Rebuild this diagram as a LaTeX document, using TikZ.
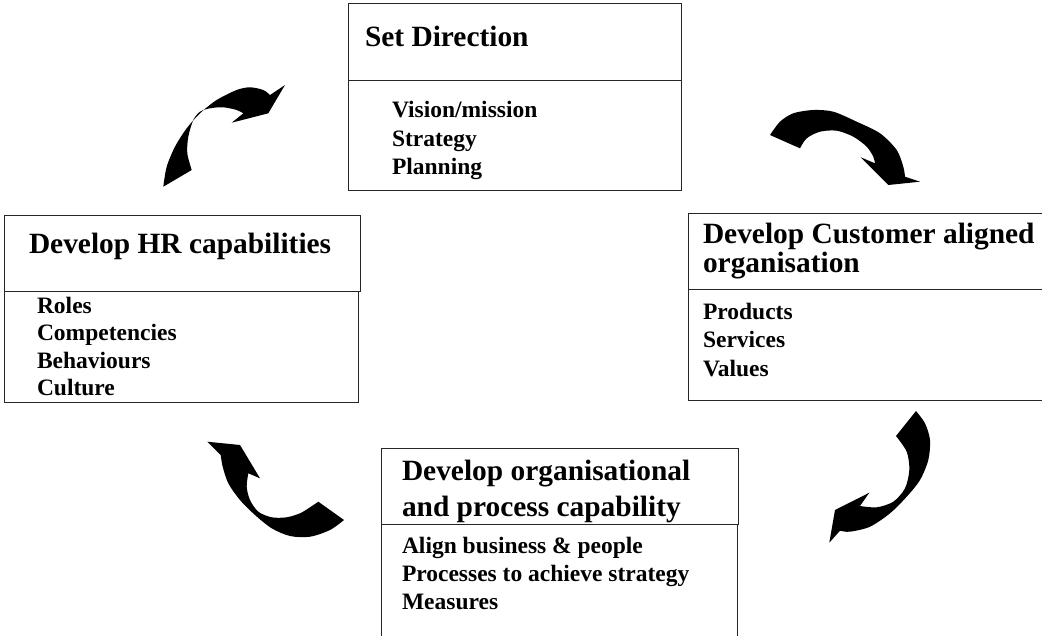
\documentclass[tikz,border=0pt]{standalone}
\usepackage{fontspec}
\setmainfont{Liberation Serif}
\newcommand\mytxt[3]{\parbox[t]{400pt}{\fontsize{#1}{#2}\selectfont\bfseries #3}}
\begin{document}
\begin{tikzpicture}[x=1pt,y=-1pt,
  boxpart/.style={draw=black!85,line width=1.3pt,inner sep=0pt,anchor=north west},
  txt/.style={anchor=base west,inner sep=0pt,outer sep=0pt},
  arrowfill/.style={fill=black}]
\useasboundingbox (0,0) rectangle (1042,635);
\clip (0,0) rectangle (1042,635);
% ---- Set Direction box
\node[boxpart,minimum width=333pt,minimum height=77pt] (sdHead) at (347.5,3) {};
\node[boxpart,minimum width=333pt,minimum height=110pt] (sdBody) at (347.5,80) {};
\node[txt] (sdTitle) at (365,46.5) {\mytxt{29.4}{35}{Set Direction}};
\node[txt] (sdList) at (392,117.5) {\mytxt{23.5}{28.5}{Vision/mission\\Strategy\\Planning}};
% ---- HR box
\node[boxpart,minimum width=356pt,minimum height=76pt] (hrHead) at (4,215) {};
\node[boxpart,minimum width=354pt,minimum height=111pt] (hrBody) at (4,291) {};
\node[txt] (hrTitle) at (29,253.3) {\mytxt{29.4}{35}{Develop HR capabilities}};
\node[txt] (hrList) at (37,313.5) {\mytxt{23.5}{27.3}{Roles\\Competencies\\Behaviours\\Culture}};
% ---- Customer box
\node[boxpart,minimum width=380pt,minimum height=76pt] (cuHead) at (688,213) {};
\node[boxpart,minimum width=380pt,minimum height=111pt] (cuBody) at (688,289) {};
\node[txt] (cuTitle) at (703,243.3) {\mytxt{29.4}{29.4}{Develop Customer aligned\\organisation}};
\node[txt] (cuList) at (703,319) {\mytxt{23.5}{28.5}{Products\\Services\\Values}};
% ---- Organisational box
\node[boxpart,minimum width=357pt,minimum height=76pt] (orHead) at (381,448) {};
\node[boxpart,minimum width=356pt,minimum height=120pt] (orBody) at (381,524) {};
\node[txt] (orTitle) at (402,480) {\mytxt{29.4}{36}{Develop organisational\\and process capability}};
\node[txt] (orList) at (402,553.5) {\mytxt{23.5}{28}{Align business \& people\\Processes to achieve strategy\\Measures}};
% ---- curved block arrows
\fill[arrowfill] plot[smooth] coordinates {(163.3,186.7) (166.7,166.7) (175,146.7) (186.7,128.3) (200,113.3) (216.7,100) (236.7,90) (250,87.3) (263.3,90) (270,95)}
  -- (285,85) -- (268.3,113.3) -- (231.7,122.7)
  -- plot[smooth] coordinates {(243.3,113.3) (236.7,110) (223.3,107.3) (210,108.3) (200,111.7) (193.3,120) (188.3,136.7) (187.3,153.3) (191.7,170)} -- cycle;
\fill[arrowfill] plot[smooth] coordinates {(770,135) (780,121.7) (793.3,113.3) (813.3,110) (833.3,111.7) (856.7,121.7) (880,133.3) (896.7,150) (903.3,166.7) (905,176.7)}
  -- (920,181.7) -- (888.3,185) -- (860.7,157.3)
  -- plot[smooth] coordinates {(875,163.3) (873.3,156.7) (866.7,146.7) (853.3,136.7) (836.7,130.7) (820,131.7) (806.7,138.3) (800,148.3)} -- cycle;
\fill[arrowfill] plot[smooth] coordinates {(916,411) (925,423.3) (930,440) (928.3,460) (920,480) (906.7,496.7) (890,513.3) (870,526.7) (850,531.7) (840,530.7)}
  -- (829.3,542.7) -- (835,510) -- (869.3,492.7)
  -- plot[smooth] coordinates {(860,506) (876.7,507.3) (893.3,501.7) (905,488.3) (909.3,470) (906.7,451.7) (896,436)} -- cycle;
\fill[arrowfill] plot[smooth] coordinates {(344,520) (330,530) (310,536.7) (290,536) (271.7,528.3) (255,515) (240,500) (228.3,483.3) (222.7,466.7) (220.7,455)}
  -- (207.3,441.7) -- (240,445) -- (260,478.3)
  -- plot[smooth] coordinates {(248.3,473.3) (246.7,486.7) (250,500) (258.3,511.7) (271.7,517.3) (286.7,517.3) (300,513.3) (310,507.3) (318.3,501.7)} -- cycle;
\end{tikzpicture}
\end{document}
